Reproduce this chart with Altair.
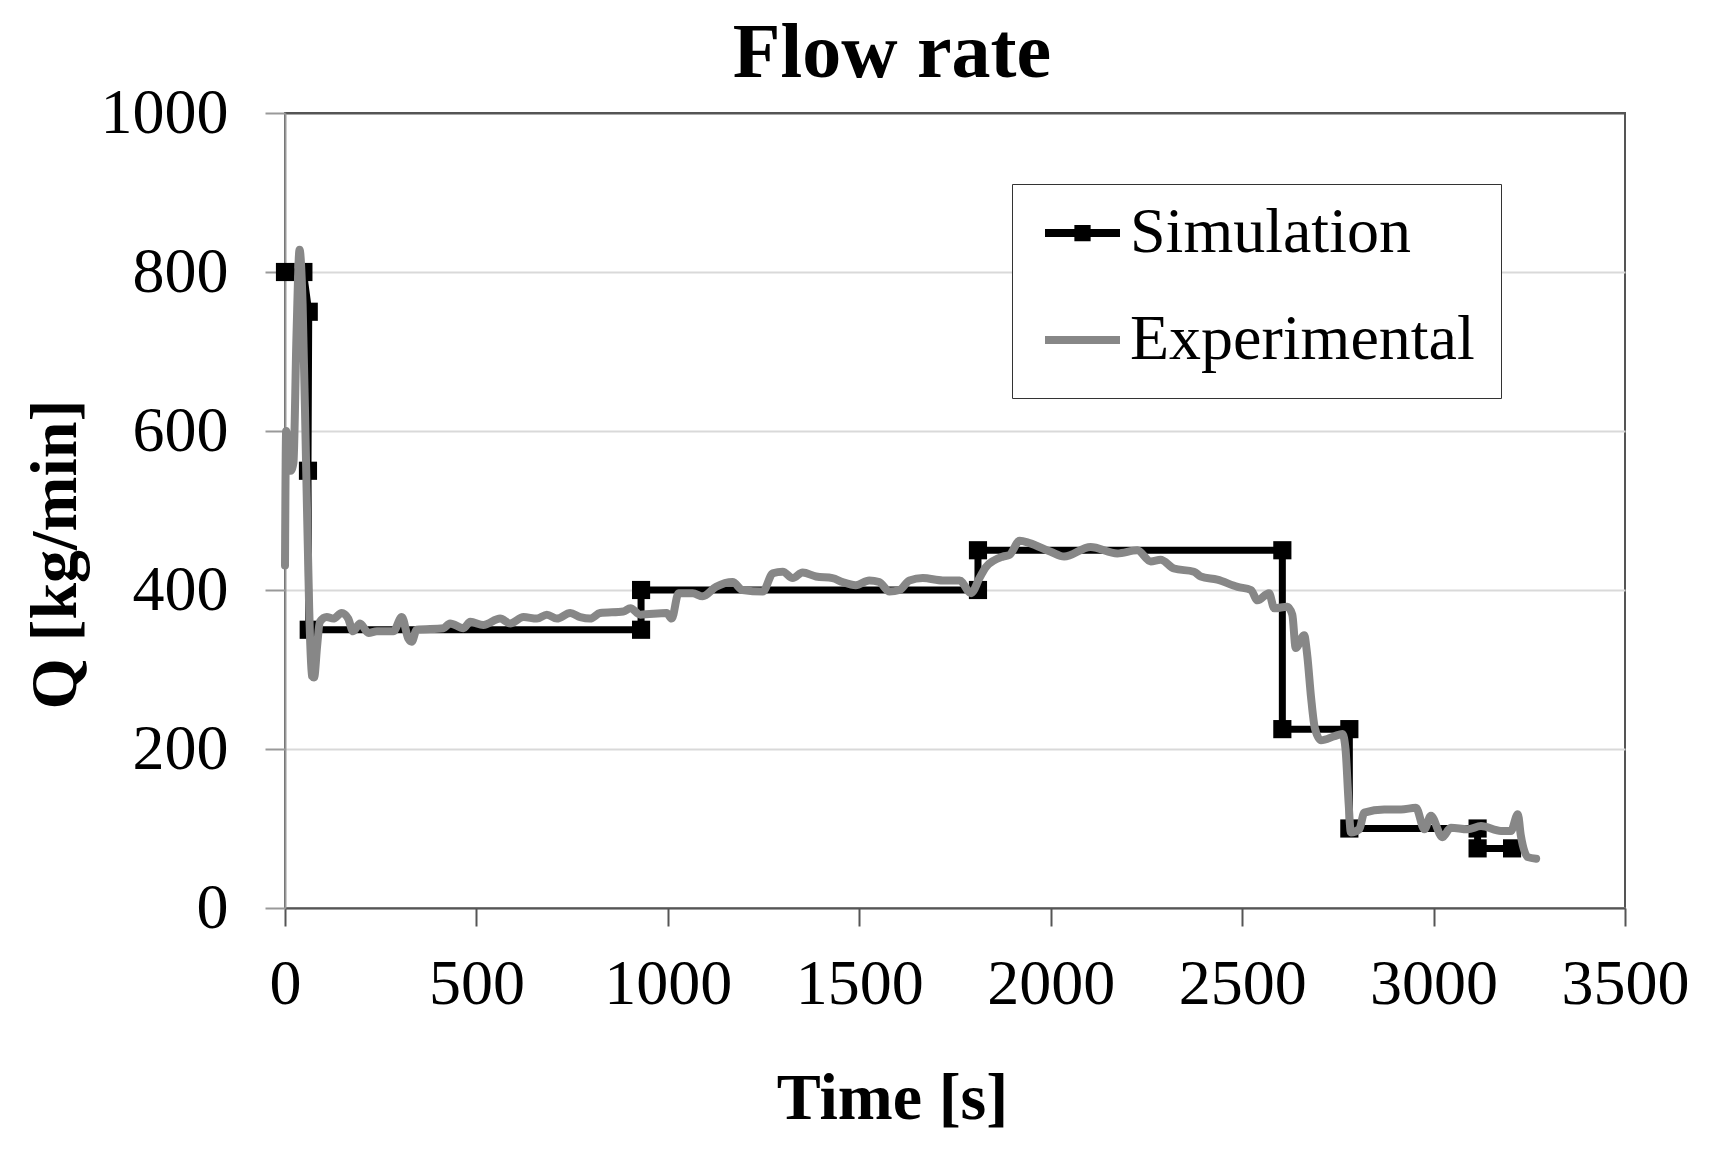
import altair as alt
import pandas as pd

# ---- data ----
sim_t = [0, 48, 62, 60, 62, 930, 930, 1810, 1810, 2605, 2605, 2780, 2780, 3115, 3115, 3205]
sim_q = [800, 800, 750, 550, 350, 350, 400, 400, 450, 450, 225, 225, 100, 100, 75, 75]

exp_t = [0, 3, 8, 15, 22, 30, 38, 46, 55, 63,
         70, 76, 84, 91, 109, 126, 148, 165, 178, 196,
         218, 240, 283, 305, 322, 331, 344, 414, 431, 466,
         484, 518, 562, 588, 623, 658, 684, 710, 745, 771,
         797, 823, 884, 902, 928, 997, 1010, 1028, 1065, 1091,
         1126, 1169, 1195, 1248, 1274, 1300, 1326, 1352, 1387, 1430,
         1456, 1491, 1526, 1552, 1579, 1605, 1631, 1666, 1718, 1762,
         1792, 1814, 1831, 1875, 1892, 1919, 1945, 2000, 2035, 2104,
         2174, 2226, 2261, 2287, 2322, 2374, 2392, 2435, 2488, 2523,
         2540, 2570, 2584, 2618, 2631, 2640, 2662, 2670, 2680, 2690,
         2706, 2741, 2762, 2770, 2778, 2784, 2806, 2819, 2871, 2915,
         2954, 2976, 2993, 3023, 3045, 3089, 3124, 3176, 3202, 3220,
         3228, 3246, 3268]
exp_q = [431, 600, 575, 550, 560, 720, 828, 760, 560, 380,
         292, 290, 330, 360, 366, 364, 371, 364, 348, 358,
         346, 348, 348, 366, 339, 335, 350, 352, 358, 352,
         360, 356, 364, 358, 366, 364, 369, 364, 371, 366,
         364, 371, 373, 377, 369, 371, 364, 396, 396, 392,
         404, 410, 400, 398, 421, 423, 415, 422, 417, 415,
         410, 406, 412, 410, 398, 400, 412, 415, 412, 412,
         396, 415, 429, 442, 444, 462, 459, 448, 442, 454,
         446, 450, 436, 438, 427, 423, 417, 413, 404, 400,
         387, 396, 377, 379, 369, 327, 343, 318, 265, 226,
         211, 216, 219, 200, 133, 95, 99, 120, 124, 124,
         126, 99, 116, 89, 101, 99, 103, 97, 97, 118,
         91, 64, 62]

series_names = ["Simulation", "Experimental"]
series_colors = ["#000000", "#878787"]
# legend glyphs: line with a small square, plain line
series_glyphs = ["M-1,0H1M-0.11,-0.11H0.11V0.11H-0.11Z", "M-1,0H1"]
x_ticks = [0, 500, 1000, 1500, 2000, 2500, 3000, 3500]
y_ticks = [0, 200, 400, 600, 800, 1000]

sim = pd.DataFrame({"t": sim_t, "q": sim_q, "series": series_names[0], "i": list(range(len(sim_t)))})
exp = pd.DataFrame({"t": exp_t, "q": exp_q, "series": series_names[1], "i": list(range(len(exp_t)))})
key = pd.DataFrame({"t": [sim_t[0], exp_t[0]], "q": [sim_q[0], exp_q[0]], "series": series_names})

SERIF = "Liberation Serif"
W, H = 1340, 795

x = alt.X("t:Q",
          scale=alt.Scale(domain=[0, 3500], nice=False),
          axis=alt.Axis(values=x_ticks, format="d", title="Time [s]", grid=False,
                        domainColor="#555555", domainWidth=2,
                        tickColor="#555555", tickWidth=2, tickSize=18,
                        labelFont=SERIF, labelFontSize=64, labelColor="#000000",
                        labelBaseline="alphabetic", labelPadding=77, labelFlush=False,
                        titleFont=SERIF, titleFontSize=66, titleFontWeight="bold",
                        titleColor="#000000", titleX=607, titleY=210,
                        titleAlign="center", titleBaseline="alphabetic", titleAngle=0))
y = alt.Y("q:Q",
          scale=alt.Scale(domain=[0, 1000], nice=False),
          axis=alt.Axis(values=y_ticks, format="d", title="Q [kg/min]", grid=True,
                        gridColor={"condition": {"test": "datum.value === 1000", "value": "#555555"},
                                   "value": "#d9d9d9"},
                        gridWidth=2,
                        domainColor="#999999", domainWidth=2,
                        tickColor="#999999", tickWidth=2, tickSize=20,
                        labelFont=SERIF, labelFontSize=64, labelColor="#000000",
                        labelPadding=37, labelFlush=False,
                        titleFont=SERIF, titleFontSize=66, titleFontWeight="bold",
                        titleColor="#000000", titleX=-210, titleY=441,
                        titleAlign="center", titleBaseline="alphabetic", titleAngle=270))

legend = alt.Legend(
    title=None, orient="none", legendX=727, legendY=71, direction="vertical",
    symbolSize=5625, symbolStrokeWidth=8, symbolOpacity=1,
    clipHeight=46, rowPadding=43, padding=26, symbolOffset=3, labelOffset=6,
    labelFont=SERIF, labelFontSize=64, labelColor="#000000", labelLimit=600,
    strokeColor="#333333", fillColor="#ffffff", cornerRadius=0,
)
color = alt.Color("series:N", scale=alt.Scale(domain=series_names, range=series_colors),
                  legend=legend)
shape = alt.Shape("series:N", scale=alt.Scale(domain=series_names, range=series_glyphs),
                  legend=legend)

sim_line = alt.Chart(sim).mark_line(strokeWidth=7, strokeJoin="miter").encode(
    x=x, y=y, color=color, order="i:Q")
sim_pts = alt.Chart(sim).mark_point(shape="square", filled=True, size=330, opacity=1,
                                    color="#000000").encode(x=x, y=y)
exp_line = alt.Chart(exp).mark_line(strokeWidth=8, strokeJoin="round", strokeCap="round",
                                    interpolate="monotone").encode(
    x=x, y=y, color=color, order="i:Q")
key_layer = alt.Chart(key).mark_point(filled=False, opacity=0, strokeWidth=8).encode(
    x=x, y=y, color=color, shape=shape)

chart = alt.layer(sim_line, sim_pts, exp_line, key_layer).properties(
    width=W, height=H,
    background="#ffffff",
    title=alt.TitleParams("Flow rate", font=SERIF, fontSize=78, fontWeight="bold",
                          color="#000000", anchor="middle", frame="group",
                          dx=-63, dy=78, offset=4, baseline="alphabetic"),
    autosize=alt.AutoSizeParams(type="none"),
    padding={"left": 277, "top": 105, "right": 78, "bottom": 236},
).configure_view(stroke="#555555", strokeWidth=2)

chart.save("out.html", embed_options={"renderer": "svg", "actions": False})
